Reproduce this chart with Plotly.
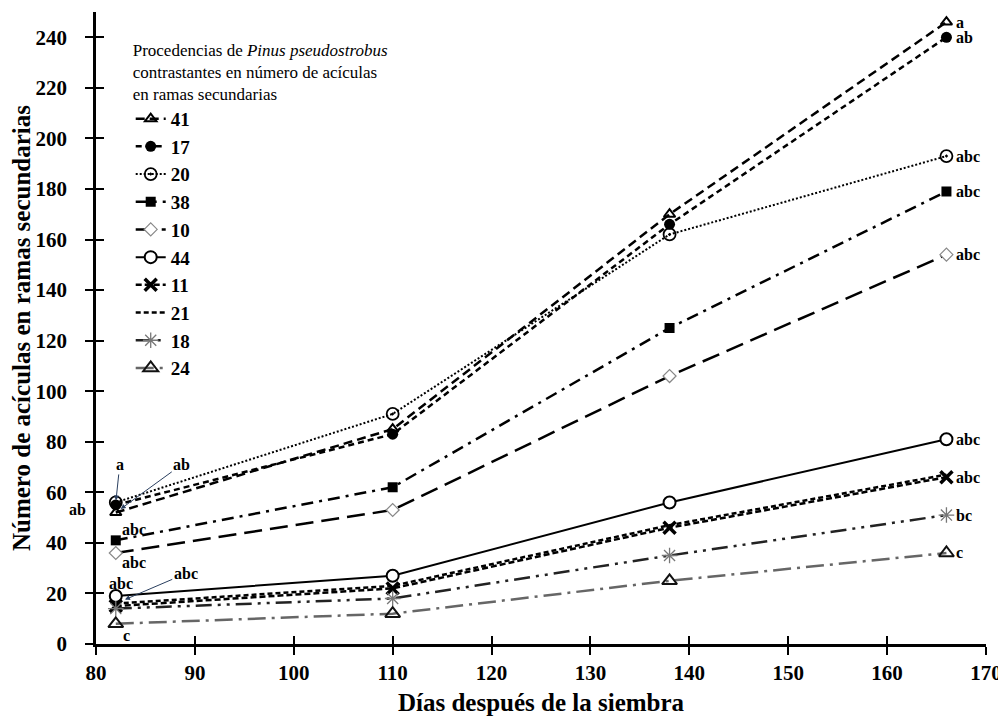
import plotly.graph_objects as go

days = [82, 110, 138, 166]
names = ["41", "17", "20", "38", "10", "44", "11", "21", "18", "24"]
s41 = [52, 85, 170, 246]
s17 = [55, 83, 166, 240]
s20 = [56, 91, 162, 193]
s38 = [41, 62, 125, 179]
s10 = [36, 53, 106, 154]
s44 = [19, 27, 56, 81]
s11 = [15, 22, 46, 66]
s21 = [16, 23, 47, 67]
s18 = [14, 18, 35, 51]
s24 = [8, 12, 25, 36]
end_letters = ["a", "ab", "abc", "abc", "abc", "abc", "abc", None, "bc", "c"]
xticks = [80, 90, 100, 110, 120, 130, 140, 150, 160, 170]
yticks = [0, 20, 40, 60, 80, 100, 120, 140, 160, 180, 200, 220, 240]

FONT = "Liberation Serif"
series = [s41, s17, s20, s38, s10, s44, s11, s21, s18, s24]
styles = [
    dict(line=dict(color="black", width=2.5, dash="9px,5px"),
         marker=dict(symbol="triangle-up-open", size=10, color="black", line=dict(width=2))),
    dict(line=dict(color="black", width=2.5, dash="6px,4px"),
         marker=dict(symbol="circle", size=11, color="black")),
    dict(line=dict(color="black", width=2, dash="2px,2px"),
         marker=dict(symbol="circle-open-dot", size=12, color="black", line=dict(width=1.8))),
    dict(line=dict(color="black", width=2.5, dash="12px,6px,3px,6px"),
         marker=dict(symbol="square", size=10, color="black")),
    dict(line=dict(color="black", width=2.5, dash="18px,8px"),
         marker=dict(symbol="diamond", size=10, color="white", line=dict(width=1.2, color="#888"))),
    dict(line=dict(color="black", width=2),
         marker=dict(symbol="circle", size=12, color="white", line=dict(width=2, color="black"))),
    dict(line=dict(color="black", width=2.5, dash="6px,3px"),
         marker=dict(symbol="x-thin", size=12, color="black", line=dict(width=3.5, color="black"))),
    dict(line=dict(color="black", width=2.5, dash="5px,3px"), mode="lines"),
    dict(line=dict(color="#222", width=2.5, dash="16px,6px,3px,6px,3px,6px"),
         marker=dict(symbol="asterisk-open", size=13, color="#777", line=dict(width=1.3, color="#777"))),
    dict(line=dict(color="#666", width=2.5, dash="18px,6px,3px,6px"),
         marker=dict(symbol="triangle-up-open", size=13, color="#111", line=dict(width=2, color="#111"))),
]

fig = go.Figure()
for nm, ys, st in zip(names, series, styles):
    mode = st.pop("mode", "lines+markers")
    fig.add_trace(go.Scatter(x=days, y=ys, name=nm, mode=mode, **st))

# invisible trace on overlay axes so their inner tick marks are drawn (crossing ticks)
fig.add_trace(go.Scatter(x=days, y=s44, xaxis="x2", yaxis="y2", mode="markers",
                         marker=dict(opacity=0), showlegend=False, hoverinfo="skip"))

ann = []
rf = dict(family=FONT, size=16, color="black", weight="bold")
for ys, lt in zip(series, end_letters):
    if lt:
        ann.append(dict(x=days[-1], y=ys[-1], text=lt, showarrow=False, xanchor="left",
                        xshift=8, font=rf))
lf = rf
ann += [
    dict(x=days[0], y=s20[0], text="a", showarrow=True, ax=4, ay=-38, arrowhead=2,
         arrowsize=1, arrowwidth=1, standoff=2, font=lf),
    dict(x=days[0], y=s41[0], text="ab", showarrow=True, ax=66, ay=-48, arrowhead=2,
         arrowsize=1, arrowwidth=1, standoff=6, font=lf),
    dict(x=days[0], y=s41[0], text="ab", showarrow=False, xshift=-38, yshift=3, font=lf),
    dict(x=days[0], y=s38[0], text="abc", showarrow=False, xshift=18, yshift=11, font=lf),
    dict(x=days[0], y=s10[0], text="abc", showarrow=False, xshift=18, yshift=-10, font=lf),
    dict(x=days[0], y=s44[0], text="abc", showarrow=False, xshift=5, yshift=12, font=lf),
    dict(x=days[0], y=s21[0], text="abc", showarrow=True, ax=70, ay=-30, arrowhead=2,
         arrowsize=1, arrowwidth=1, standoff=10, font=lf),
    dict(x=days[0], y=s24[0], text="c", showarrow=False, xshift=11, yshift=-12, font=lf),
]

axis_common = dict(showline=True, linecolor="black", linewidth=2.5, ticks="outside",
                   ticklen=8, tickwidth=2, tickcolor="black", showgrid=False, zeroline=False,
                   ticklabeloverflow="allow", automargin=False,
                   tickfont=dict(family=FONT, size=21, color="black", weight="bold"))

# page body has an 8px margin, so the figure is sized/offset to fit the 1006x719 window
fig.update_layout(
    width=998, height=711,
    margin=dict(l=88, r=20, t=4, b=75),
    paper_bgcolor="white", plot_bgcolor="white",
    font=dict(family=FONT, color="black"),
    xaxis=dict(range=[80, 170], tickvals=xticks,
               title=dict(text="Días después de la siembra",
                          font=dict(family=FONT, size=25, color="black", weight="bold"), standoff=10),
               **axis_common),
    yaxis=dict(range=[0, 250], tickvals=yticks, ticklabelstandoff=14,
               title=dict(text="Número de acículas en ramas secundarias",
                          font=dict(family=FONT, size=25, color="black", weight="bold"), standoff=7),
               **axis_common),
    xaxis2=dict(range=[80, 170], overlaying="x", anchor="y", side="bottom", tickvals=xticks,
                ticks="inside", ticklen=8, tickwidth=2, tickcolor="black", automargin=False,
                showticklabels=False, showgrid=False, zeroline=False, showline=False),
    yaxis2=dict(range=[0, 250], overlaying="y", anchor="x", side="left", tickvals=yticks,
                ticks="inside", ticklen=8, tickwidth=2, tickcolor="black", automargin=False,
                showticklabels=False, showgrid=False, zeroline=False, showline=False),
    legend=dict(x=0.039, y=0.966, xanchor="left", yanchor="top", bgcolor="rgba(0,0,0,0)",
                font=dict(family=FONT, size=19, color="black", weight="bold"),
                title=dict(text="Procedencias de <i>Pinus pseudostrobus</i><br>contrastantes en número de acículas<br>en ramas secundarias",
                           font=dict(family=FONT, size=17, color="black", weight="normal"), side="top"),
                tracegroupgap=0),
    annotations=ann,
    showlegend=True,
)
fig.update_traces(cliponaxis=False)
fig.write_html("out.html")
